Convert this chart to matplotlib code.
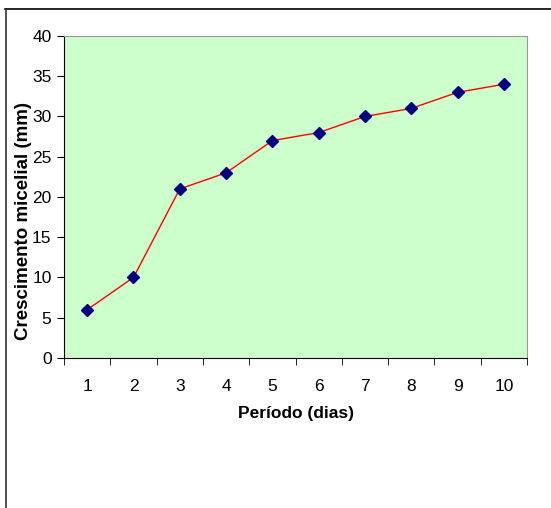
import matplotlib.pyplot as plt
from matplotlib.lines import Line2D

plt.rcParams['font.family'] = ['Liberation Sans', 'DejaVu Sans']

dias = [1, 2, 3, 4, 5, 6, 7, 8, 9, 10]
crescimento = [6, 10, 21, 23, 27, 28, 30, 31, 33, 34]
y_ticks = [0, 5, 10, 15, 20, 25, 30, 35, 40]

fig = plt.figure(figsize=(5.51, 5.08), dpi=100)
ax = fig.add_axes([0.1162, 0.2953, 0.8403, 0.6339])
ax.set_facecolor('#CCFFCC')

ax.plot(dias, crescimento, color='red', linewidth=1, marker='D',
        markersize=6, markerfacecolor='#000080', markeredgecolor='#000080')

ax.set_xlim(0.5, 10.5)
ax.set_ylim(0, 40)
ax.set_yticks(y_ticks)
ax.set_xticks(dias)
ax.set_xticks([d + 0.5 for d in [0] + dias], minor=True)
ax.tick_params(axis='x', which='major', length=0, pad=15, labelsize=12.5)
ax.tick_params(axis='x', which='minor', length=5, direction='out', color='black')
ax.tick_params(axis='y', length=5, direction='out', labelsize=12.5, pad=4)

for side in ['top', 'right']:
    ax.spines[side].set_color('#999999')
for side in ['left', 'bottom']:
    ax.spines[side].set_color('black')

ax.set_xlabel('Período (dias)', fontsize=12.5, fontweight='bold', labelpad=9)
ax.set_ylabel('Crescimento micelial (mm)', fontsize=13.5, fontweight='bold')
ax.yaxis.set_label_coords(-0.069, 0.425)

# frame lines of the chart area (top and left only)
fig.add_artist(Line2D([5 / 551, 1], [1 - 9 / 508, 1 - 9 / 508], color='black', linewidth=1.2))
fig.add_artist(Line2D([5.5 / 551, 5.5 / 551], [0, 1 - 9 / 508], color='#333333', linewidth=1.2))

fig.savefig('out.png', dpi=100)
